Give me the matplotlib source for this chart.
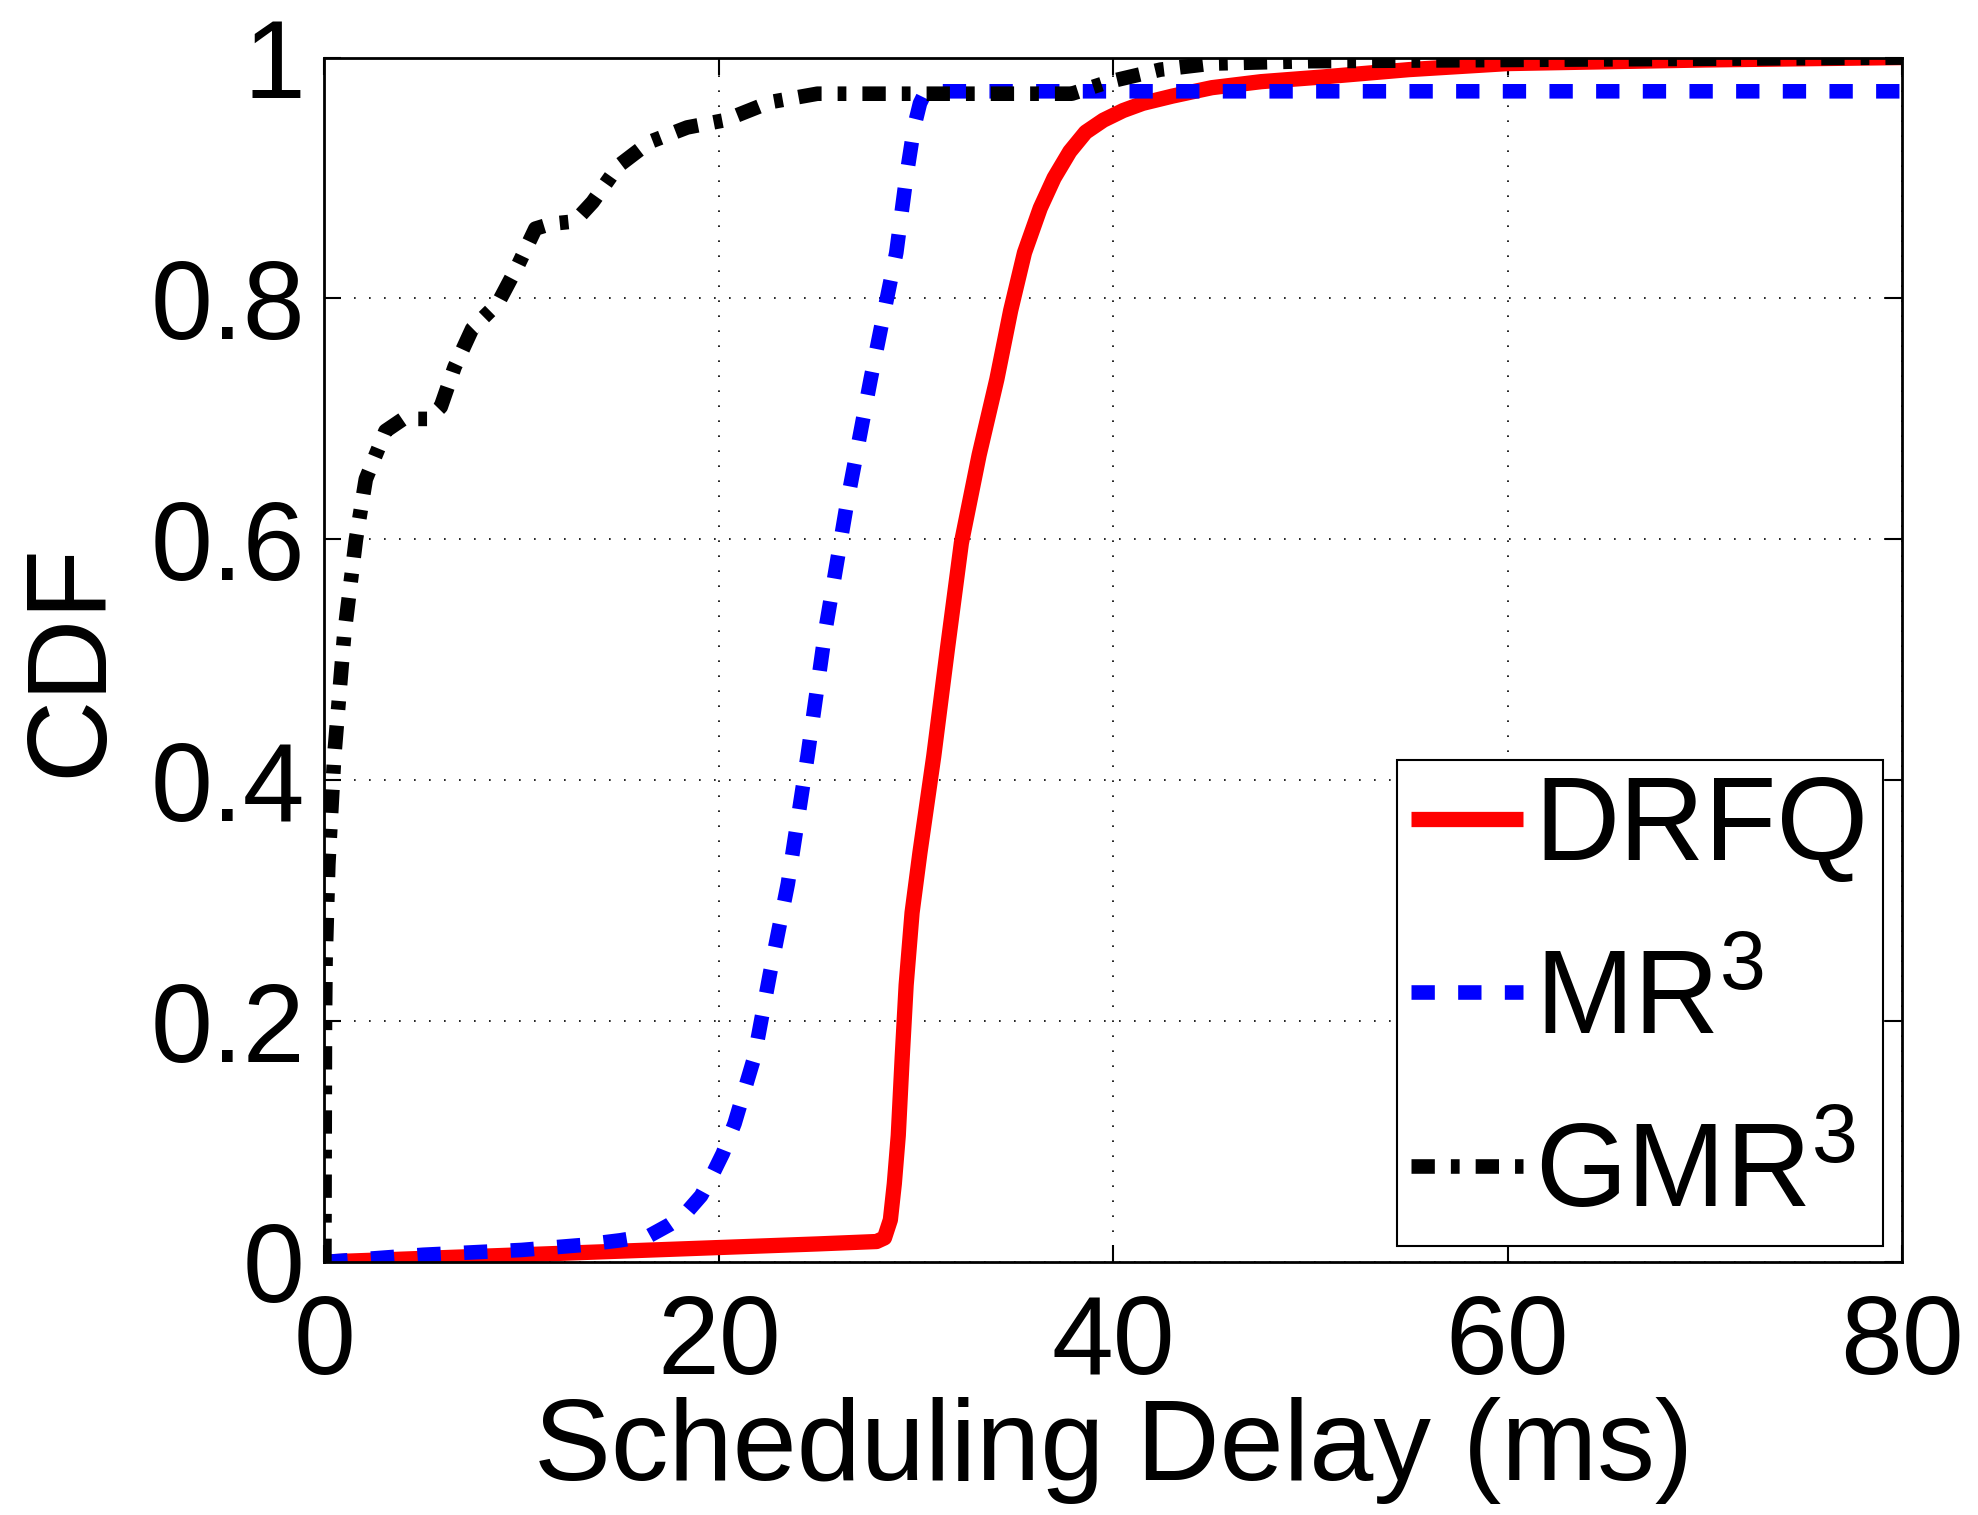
import numpy as np
import matplotlib.pyplot as plt

plt.rcParams['font.family'] = ['Liberation Sans', 'DejaVu Sans']
plt.rcParams['mathtext.fontset'] = 'custom'
plt.rcParams['mathtext.rm'] = 'Liberation Sans'
plt.rcParams['mathtext.default'] = 'rm'

# values (delay in ms, CDF)
drfq_x = [0, 5, 10, 15, 20, 25, 28.0, 28.4, 28.7, 28.9, 29.1, 29.3, 29.5, 29.8, 30.2, 30.9, 31.6, 32.3, 33.2, 34.1, 34.8, 35.5, 36.3, 37.0, 37.8, 38.6, 39.5, 40.5, 41.5, 43.0, 45.0, 47.5, 50.7, 55.0, 60.0, 70.0, 80.0]
drfq_y = [0, 0.003, 0.006, 0.009, 0.012, 0.015, 0.017, 0.02, 0.035, 0.065, 0.105, 0.17, 0.23, 0.29, 0.34, 0.42, 0.51, 0.597, 0.67, 0.733, 0.79, 0.838, 0.875, 0.9, 0.922, 0.938, 0.948, 0.956, 0.962, 0.968, 0.975, 0.98, 0.984, 0.99, 0.995, 0.998, 1.0]

mr3_x = [0, 5, 10, 13, 15, 16.5, 17.5, 18.3, 19.1, 19.6, 20.2, 20.8, 21.8, 22.6, 23.5, 24.5, 25.4, 26.5, 27.7, 28.4, 29.0, 29.5, 29.9, 30.2, 30.5, 35, 40, 50, 60, 70, 80]
mr3_y = [0, 0.006, 0.01, 0.014, 0.018, 0.022, 0.031, 0.04, 0.055, 0.07, 0.09, 0.115, 0.17, 0.24, 0.314, 0.42, 0.524, 0.63, 0.733, 0.79, 0.838, 0.9, 0.942, 0.962, 0.972, 0.972, 0.972, 0.972, 0.972, 0.972, 0.972]

gmr3_x = [0, 0.03, 0.06, 0.2, 0.5, 1.0, 1.6, 2.1, 3.1, 4.0, 5.3, 5.9, 6.6, 7.5, 8.8, 9.8, 10.7, 11.5, 12.7, 13.6, 14.9, 16.5, 18.4, 20.3, 22.6, 25.0, 30, 35, 37.9, 39.8, 42.4, 45.0, 50, 60, 70, 80]
gmr3_y = [0, 0.2, 0.25, 0.33, 0.42, 0.52, 0.6, 0.65, 0.69, 0.70, 0.70, 0.71, 0.743, 0.775, 0.796, 0.827, 0.858, 0.862, 0.864, 0.88, 0.91, 0.93, 0.942, 0.948, 0.963, 0.97, 0.97, 0.97, 0.97, 0.98, 0.99, 0.995, 0.997, 0.998, 0.999, 1.0]

fig = plt.figure(figsize=(19.78, 15.15), dpi=100)
ax = fig.add_axes([0.164, 0.167, 0.7976, 0.795])

ax.plot(drfq_x, drfq_y, color='red', lw=11, solid_capstyle='butt', solid_joinstyle='round', label='DRFQ')
ax.plot(mr3_x, mr3_y, color='blue', lw=10.5, ls=(0, (1.6, 1.6)), label='MR$^3$')
ax.plot(gmr3_x, gmr3_y, color='black', lw=10.5, ls=(0, (1.6, 1.1, 0.6, 1.1)), label='GMR$^3$')

ax.set_xlim(0, 80)
ax.set_ylim(0, 1)
ax.set_xticks([0, 20, 40, 60, 80])
ax.set_yticks([0, 0.2, 0.4, 0.6, 0.8, 1])
ax.set_yticklabels(['0', '0.2', '0.4', '0.6', '0.8', '1'])
ax.tick_params(direction='in', length=12, width=1.5, labelsize=80, top=True, right=True, pad=14)
ax.tick_params(axis='x', pad=22)
ax.grid(True, ls=(0, (1, 8)), color='black', lw=1.2)
for s in ax.spines.values():
    s.set_linewidth(2)

ax.set_xlabel('Scheduling Delay (ms)', fontsize=83, labelpad=0)
ax.set_ylabel('CDF', fontsize=82, labelpad=18)

leg = ax.legend(loc='lower right', bbox_to_anchor=(0.988, 0.013), fontsize=85,
                fancybox=False, framealpha=1, edgecolor='black',
                handlelength=0.95, handletextpad=0.1, labelspacing=0.53,
                borderpad=0.12, borderaxespad=0)
leg.get_frame().set_linewidth(1.5)

plt.savefig('out.png', dpi=100)
